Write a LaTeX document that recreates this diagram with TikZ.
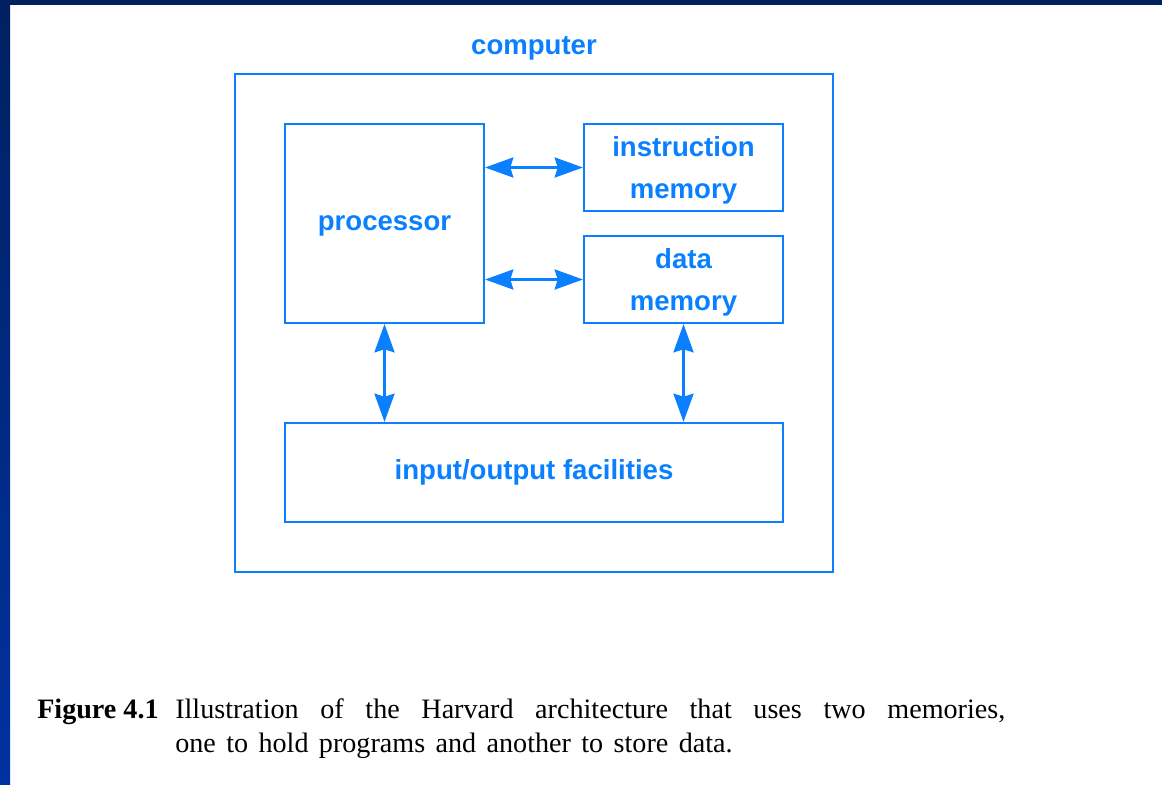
\documentclass[tikz,border=0pt]{standalone}
\usepackage{fontspec}
\setmainfont{Liberation Serif}
\newfontfamily\etichfont{Liberation Sans}
\usepackage{xcolor}
\usetikzlibrary{arrows.meta}

\definecolor{azzurro}{RGB}{10,128,255}
\definecolor{blunotte}{RGB}{0,32,96}
\definecolor{bluscuro}{RGB}{0,50,160}
\newcommand{\unita}{0.025cm}

\begin{document}
\begin{tikzpicture}[x=0.025cm, y=-0.025cm,
  blocco/.style={draw=azzurro, line width=1.4pt, rectangle, inner sep=0pt,
    text=azzurro, align=center, text depth=0pt,
    font=\etichfont\bfseries\fontsize{19.6}{30}\selectfont},
  etich/.style={text=azzurro, inner sep=0pt, text depth=0pt,
    font=\etichfont\bfseries\fontsize{19.6}{30}\selectfont},
  bus/.style={azzurro, line width=2.8pt,
    {Stealth[length=20pt, width=14pt, inset=2pt]}-{Stealth[length=20pt, width=14pt, inset=2pt]}},
  didasc/.style={inner sep=0pt, font=\fontsize{20}{24.2}\selectfont}]

\useasboundingbox (0,0) rectangle (1162,784);

% Cornice
\fill[blunotte] (0,0) rectangle (1162,5);
\shade[top color=blunotte, bottom color=bluscuro] (0,0) rectangle (10,784);

% Blocchi
\node[blocco, minimum width=598*\unita, minimum height=498*\unita] (computer) at (534,323) {};
\node[etich] (etcomp) at (534,46) {computer};

\node[blocco, minimum width=199*\unita, minimum height=199*\unita] (proc) at (384.5,223.5) {processor};
\node[blocco, minimum width=199*\unita, minimum height=87*\unita] (imem) at (683.5,167.5) {instruction\\memory};
\node[blocco, minimum width=199*\unita, minimum height=87*\unita] (dmem) at (683.5,279.5) {data\\memory};
\node[blocco, text depth=, minimum width=498*\unita, minimum height=99*\unita] (io) at (534,472.5) {input/output facilities};

% Frecce
\draw[bus] (proc.east |- imem.west) -- (imem.west);
\draw[bus] (proc.east |- dmem.west) -- (dmem.west);
\draw[bus] (proc.south) -- (proc.south |- io.north);
\draw[bus] (dmem.south) -- (dmem.south |- io.north);

% Didascalia
\node[didasc, anchor=base west, font=\bfseries\fontsize{20}{24.2}\selectfont] (fig) at (37,718) {Figure 4.1};
\node[didasc, anchor=base west, text width=830*\unita, align=justify] (testo) at (175,718)
  {\spaceskip=7.4pt plus 6pt minus 1pt
   Illustration of the Harvard architecture that uses two memories,\linebreak
   one to hold programs and another to store data.};
\end{tikzpicture}
\end{document}
